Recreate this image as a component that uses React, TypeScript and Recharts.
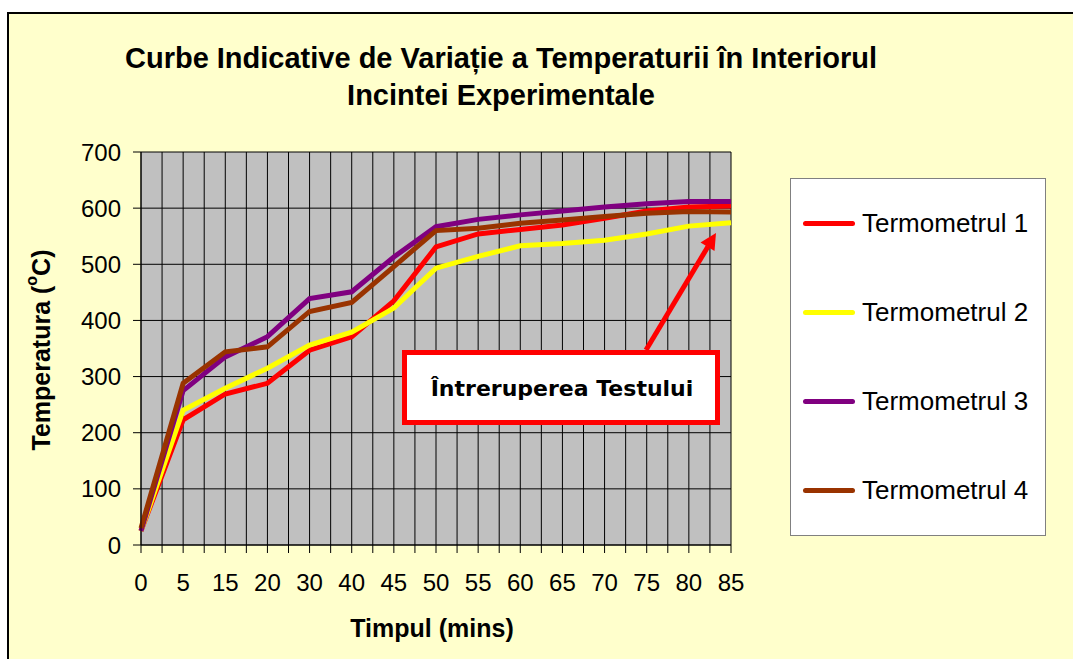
import { LineChart, Line, XAxis, YAxis, CartesianGrid } from 'recharts';

const timeLabels = ['0', '5', '15', '20', '30', '40', '45', '50', '55', '60', '65', '70', '75', '80', '85'];
const termo1 = [25, 223, 269, 288, 347, 371, 435, 531, 554, 562, 570, 582, 595, 602, 604];
const termo2 = [25, 240, 279, 315, 356, 379, 422, 493, 514, 533, 537, 543, 554, 568, 574];
const termo3 = [25, 275, 335, 371, 439, 451, 513, 567, 580, 588, 595, 602, 608, 612, 612];
const termo4 = [30, 288, 344, 353, 416, 432, 496, 560, 564, 573, 579, 585, 591, 594, 593];
const yTicks = [0, 100, 200, 300, 400, 500, 600, 700];

const series = [
  { key: 't1', name: 'Termometrul 1', color: '#FF0000' },
  { key: 't2', name: 'Termometrul 2', color: '#FFFF00' },
  { key: 't3', name: 'Termometrul 3', color: '#800080' },
  { key: 't4', name: 'Termometrul 4', color: '#993300' },
];

const data = timeLabels.map((label, i) => ({
  i,
  label,
  t1: termo1[i],
  t2: termo2[i],
  t3: termo3[i],
  t4: termo4[i],
}));

// half-step ticks give the extra vertical gridlines between categories
const xTicks: number[] = [];
for (let k = 0; k <= (timeLabels.length - 1) * 2; k++) xTicks.push(k / 2);

const font = '"Liberation Sans", Arial, sans-serif';

function LegendBox() {
  return (
    <div
      style={{
        position: 'absolute',
        left: 790,
        top: 178,
        width: 256,
        height: 358,
        boxSizing: 'border-box',
        background: '#fff',
        border: '1px solid #808080',
        fontFamily: font,
      }}
    >
      {series.map((s, idx) => (
        <div
          key={s.key}
          style={{ position: 'absolute', left: 12, top: 27 + idx * 89.3, height: 34, display: 'flex', alignItems: 'center' }}
        >
          <div style={{ width: 52, height: 5, borderRadius: 2.5, background: s.color }} />
          <span style={{ marginLeft: 7, fontSize: 26, color: '#000', whiteSpace: 'nowrap' }}>{s.name}</span>
        </div>
      ))}
    </div>
  );
}

function YLabel() {
  const cx = 41;
  const cy = 350;
  return (
    <text
      x={cx}
      y={cy}
      transform={`rotate(-90 ${cx} ${cy})`}
      textAnchor="middle"
      dominantBaseline="central"
      fontFamily={font}
      fontWeight="bold"
      fontSize={25}
      fill="#000"
    >
      Temperatura (
      <tspan fontSize={16} dy={-10}>o</tspan>
      <tspan dy={10}>C)</tspan>
    </text>
  );
}

export default function App() {
  return (
    <div style={{ position: 'absolute', left: 0, top: 0, width: 1073, height: 659, background: '#fff', overflow: 'hidden' }}>
      <div
        style={{
          position: 'absolute',
          left: 7,
          top: 12,
          width: 1080,
          height: 660,
          background: '#FFFFCC',
          borderLeft: '2px solid #000',
          borderTop: '2px solid #000',
        }}
      />
      <div
        style={{
          position: 'absolute',
          left: 0,
          width: 1002,
          top: 40,
          textAlign: 'center',
          fontFamily: font,
          fontWeight: 'bold',
          fontSize: 29,
          lineHeight: '37px',
          color: '#000',
          whiteSpace: 'nowrap',
        }}
      >
        Curbe Indicative de Variație a Temperaturii în Interiorul
        <br />
        Incintei Experimentale
      </div>
      <div style={{ position: 'absolute', left: 0, top: 0 }}>
        <LineChart width={1073} height={659} data={data} margin={{ top: 152, right: 342, bottom: 64, left: 81 }}>
          <CartesianGrid stroke="#000" strokeWidth={1} fill="#C0C0C0" fillOpacity={1} />
          <XAxis
            dataKey="i"
            type="number"
            domain={[0, timeLabels.length - 1]}
            ticks={xTicks}
            interval={0}
            height={50}
            tickFormatter={(v: number) => (Number.isInteger(v) ? timeLabels[v] : '')}
            tick={{ fill: '#000', fontSize: 24, fontFamily: font }}
            tickLine={{ stroke: '#000' }}
            tickSize={8}
            tickMargin={21}
            axisLine={{ stroke: '#000' }}
            label={{
              value: 'Timpul (mins)',
              position: 'insideBottom',
              offset: -42,
              dx: -4,
              fill: '#000',
              fontSize: 25,
              fontWeight: 'bold',
              fontFamily: font,
            }}
          />
          <YAxis
            domain={[0, 700]}
            ticks={yTicks}
            width={60}
            interval={0}
            tick={{ fill: '#000', fontSize: 24, fontFamily: font }}
            tickLine={{ stroke: '#000' }}
            tickSize={8}
            tickMargin={12}
            axisLine={{ stroke: '#000' }}
            label={<YLabel />}
          />
          {series.map((s) => (
            <Line
              key={s.key}
              type="linear"
              dataKey={s.key}
              name={s.name}
              stroke={s.color}
              strokeWidth={5}
              dot={false}
              activeDot={false}
              isAnimationActive={false}
            />
          ))}
        </LineChart>
      </div>
      <LegendBox />
      <svg width={1073} height={659} style={{ position: 'absolute', left: 0, top: 0, pointerEvents: 'none' }}>
        <line x1={646} y1={350} x2={708} y2={246.5} stroke="#FF0000" strokeWidth={5} />
        <polygon points="716,233 714.5,251 700.5,242.5" fill="#FF0000" />
        <rect x={404.5} y={352.5} width={313} height={70} fill="#fff" stroke="#FF0000" strokeWidth={5} />
        <text
          x={562}
          y={388}
          textAnchor="middle"
          dominantBaseline="central"
          fontFamily='"DejaVu Sans", Tahoma, sans-serif'
          fontWeight="bold"
          fontSize={22}
          fill="#000"
        >
          Întreruperea Testului
        </text>
      </svg>
    </div>
  );
}
